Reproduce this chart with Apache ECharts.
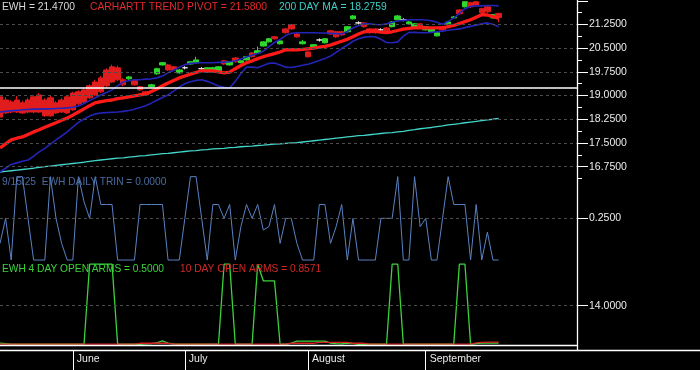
<!DOCTYPE html>
<html><head><meta charset="utf-8">
<script src="https://cdn.jsdelivr.net/npm/echarts@6/dist/echarts.min.js"></script>
<style>html,body{margin:0;padding:0;background:#000}#c{width:700px;height:370px}</style>
</head><body><div id="c"></div>
<script>
const dates = ['5/13','5/14','5/15','5/16','5/19','5/20','5/21','5/22','5/23','5/27','5/28','5/29','5/30',
'6/2','6/3','6/4','6/5','6/6','6/9','6/10','6/11','6/12','6/13','6/16','6/17','6/18','6/20','6/23','6/24','6/25','6/26','6/27','6/30',
'7/1','7/2','7/3','7/7','7/8','7/9','7/10','7/11','7/14','7/15','7/16','7/17','7/18','7/21','7/22','7/23','7/24','7/25','7/28','7/29','7/30','7/31',
'8/1','8/4','8/5','8/6','8/7','8/8','8/11','8/12','8/13','8/14','8/15','8/18','8/19','8/20','8/21','8/22','8/25','8/26','8/27','8/28','8/29',
'9/2','9/3','9/4','9/5','9/8','9/9','9/10','9/11','9/12','9/15','9/16','9/17','9/18','9/19'];
const padCats = ['p1','p2','p3','p4','p5','p6','p7','p8','p9','p10','p11','p12','p13','p14'];
const monthStarts = ['6/2','7/1','8/1','9/2'];
const monthNames = ['June','July','August','September'];

const open = [18.96,18.86,18.80,18.86,18.77,18.86,18.96,19.02,18.86,18.93,
18.77,18.86,18.96,19.08,19.12,19.18,19.31,19.43,19.56,19.81,
19.91,19.88,19.50,19.53,19.47,19.28,19.12,19.28,19.69,19.97,
19.97,19.91,19.72,19.88,20.00,20.04,19.85,19.75,19.75,19.78,
20.10,19.97,20.19,20.04,20.13,20.35,20.35,20.57,20.70,20.86,
20.64,21.11,21.24,20.95,20.64,20.38,20.54,20.76,20.67,21.05,
21.02,21.02,21.02,21.43,21.30,21.30,21.11,21.11,21.08,21.14,
21.18,21.40,21.40,21.27,21.18,21.27,21.08,21.02,20.89,21.18,
21.27,21.46,21.71,21.81,21.94,21.97,21.75,21.81,21.46,21.60];
const close = [18.32,18.45,18.48,18.48,18.45,18.48,18.48,18.48,18.36,18.36,
18.45,18.48,18.45,18.55,18.74,18.80,18.93,19.02,19.12,19.31,
19.43,19.50,19.34,19.59,19.34,19.18,19.02,19.34,19.85,20.04,
19.81,19.81,19.81,19.88,20.07,20.13,19.85,19.88,19.88,19.91,
20.00,20.07,20.07,20.10,20.23,20.23,20.42,20.70,20.80,20.80,
20.73,20.99,21.11,20.86,20.70,20.23,20.61,20.76,20.80,20.95,
20.86,20.92,21.18,21.52,21.30,21.18,20.99,20.99,21.08,21.05,
21.33,21.52,21.40,21.33,21.27,21.18,21.18,21.11,20.99,21.08,
21.33,21.49,21.59,21.97,21.81,21.87,21.62,21.65,21.56,21.47];
const low = [18.28,18.42,18.44,18.45,18.42,18.44,18.44,18.45,18.33,18.33,
18.42,18.45,18.42,18.52,18.70,18.76,18.89,18.98,19.08,19.27,
19.40,19.46,19.30,19.50,19.31,19.15,18.99,19.26,19.66,19.95,
19.78,19.79,19.70,19.83,19.98,20.02,19.80,19.73,19.72,19.76,
19.97,19.95,20.04,20.02,20.11,20.20,20.33,20.55,20.68,20.77,
20.62,20.96,21.08,20.83,20.62,20.20,20.52,20.71,20.65,20.92,
20.83,20.89,21.00,21.41,21.25,21.15,20.96,20.96,21.03,21.02,
21.16,21.38,21.35,21.25,21.16,21.15,21.06,21.00,20.87,21.05,
21.25,21.44,21.56,21.79,21.78,21.84,21.59,21.62,21.44,21.32];
const high = [19.02,18.95,18.86,18.99,18.84,18.93,19.01,19.08,18.92,18.99,
18.83,18.93,19.00,19.12,19.17,19.25,19.36,19.50,19.62,19.86,
19.98,19.95,19.55,19.62,19.50,19.31,19.15,19.37,19.88,20.06,
20.00,19.94,19.84,19.93,20.09,20.23,19.90,19.90,19.91,19.93,
20.13,20.09,20.22,20.12,20.25,20.38,20.55,20.72,20.82,20.89,
20.76,21.14,21.27,20.98,20.76,20.41,20.63,20.81,20.82,21.08,
21.05,21.05,21.20,21.55,21.35,21.33,21.14,21.14,21.13,21.17,
21.36,21.55,21.45,21.36,21.30,21.30,21.20,21.14,21.01,21.21,
21.36,21.52,21.74,21.99,21.97,21.99,21.78,21.84,21.58,21.62];

const pivot = [17.34,17.47,17.60,17.65,17.69,17.77,17.85,17.92,18.00,18.07,
18.14,18.22,18.29,18.38,18.48,18.58,18.68,18.77,18.81,18.84,
18.86,18.90,18.93,18.96,18.99,19.02,19.05,19.13,19.21,19.31,
19.40,19.48,19.56,19.62,19.68,19.73,19.78,19.78,19.78,19.75,
19.72,19.74,19.85,19.95,20.04,20.10,20.17,20.23,20.28,20.33,
20.38,20.45,20.45,20.45,20.46,20.48,20.50,20.53,20.56,20.60,
20.66,20.72,20.78,20.86,20.95,21.02,21.05,21.04,21.01,20.99,
21.02,21.06,21.10,21.13,21.14,21.14,21.14,21.14,21.14,21.14,
21.18,21.22,21.28,21.34,21.40,21.48,21.56,21.55,21.50,21.45];
const maFast = [18.48,18.50,18.52,18.53,18.55,18.56,18.57,18.57,18.58,18.58,
18.59,18.60,18.61,18.63,18.67,18.75,18.84,18.93,19.02,19.10,
19.18,19.31,19.43,19.47,19.50,19.50,19.52,19.53,19.56,19.62,
19.72,19.80,19.90,19.98,20.02,20.03,20.04,20.04,20.04,20.05,
20.06,20.07,20.10,20.16,20.22,20.28,20.33,20.40,20.55,20.68,
20.78,20.90,20.97,20.99,20.99,20.99,20.99,20.98,20.98,20.97,
20.96,20.95,21.03,21.14,21.22,21.27,21.27,21.25,21.24,21.27,
21.32,21.36,21.38,21.39,21.40,21.40,21.39,21.37,21.32,21.26,
21.35,21.45,21.60,21.75,21.82,21.84,21.84,21.85,21.85,21.84];
const maSlow = [16.58,16.70,16.82,16.87,16.92,16.96,17.08,17.22,17.33,17.46,
17.60,17.72,17.85,18.00,18.15,18.26,18.35,18.42,18.45,18.46,
18.47,18.48,18.50,18.53,18.57,18.62,18.68,18.76,18.85,18.94,
19.02,19.14,19.27,19.38,19.44,19.48,19.50,19.45,19.38,19.30,
19.26,19.24,19.45,19.70,19.90,19.90,19.88,19.95,20.02,20.03,
19.97,19.90,19.89,19.92,19.96,19.99,20.05,20.11,20.17,20.25,
20.37,20.49,20.60,20.72,20.80,20.85,20.87,20.86,20.78,20.68,
20.67,20.70,20.88,21.00,21.00,20.99,20.99,21.00,21.02,21.04,
21.07,21.09,21.11,21.15,21.19,21.23,21.27,21.30,21.26,21.18];
const ma200 = [16.58,16.60,16.62,16.64,16.66,16.68,16.70,16.73,16.75,16.77,
16.79,16.81,16.83,16.85,16.87,16.89,16.92,16.94,16.96,16.98,
17.00,17.02,17.03,17.05,17.07,17.09,17.10,17.12,17.14,17.16,
17.17,17.19,17.21,17.23,17.25,17.26,17.28,17.29,17.31,17.32,
17.33,17.35,17.36,17.38,17.39,17.40,17.42,17.43,17.45,17.46,
17.47,17.49,17.50,17.51,17.53,17.55,17.57,17.59,17.61,17.63,
17.65,17.67,17.69,17.71,17.73,17.74,17.76,17.78,17.80,17.82,
17.83,17.85,17.87,17.90,17.92,17.95,17.97,17.99,18.02,18.04,
18.07,18.09,18.11,18.14,18.16,18.18,18.21,18.23,18.25,18.2759];
const refLevel = 19.24;

const trin = [0.10,0.25,0,0.5,0.5,0.25,0,0,0,0.5,
0.25,0.10,0,0,0.5,0.35,0.25,0.5,0.333,0.333,
0.333,0,0,0,0,0.333,0.333,0.333,0.333,0.333,
0,0,0,0.25,0.5,0.5,0.25,0,0.333,0.333,
0.25,0.333,0,0.2,0.333,0.25,0.333,0.18,0.2,0.333,
0.1,0.25,0.25,0.1,0,0,0,0.333,0.333,0.1,
0.2,0.333,0,0.25,0,0,0,0,0.25,0.25,
0.25,0.5,0,0,0.5,0.2,0.25,0,0,0.25,
0.5,0.333,0.333,0.333,0,0.333,0,0.167,0,0];

const arms4 = [0.5,0.3,0.1,0.1,0.1,0.1,0.1,0.1,0.1,0.1,
0.1,0.1,0.1,0.1,0.1,0.1,29,29,29,29,
29,0.1,0.1,0.1,0.1,0.1,0.2,0.3,0.6,1.3,
0.5,0.2,0.1,0.1,0.1,0.1,0.1,0.1,0.1,0.1,
29,29,0.1,0.1,0.1,0.1,29,23,23,23,
0.1,0.1,0.5,1.2,1.2,1.2,1.2,1.2,1.2,0.5,
0.3,0.2,0.5,0.4,0.1,0.1,0.1,0.1,0.1,0.1,
29,29,0.1,0.1,0.1,0.1,0.1,0.1,0.1,0.1,
0.1,0.1,29,29,0.1,0.3,0.5,0.5,0.5,0.5];
const arms10 = [0.15,0.15,0.15,0.15,0.15,0.15,0.15,0.15,0.15,0.15,
0.15,0.15,0.15,0.15,0.15,0.15,0.15,0.15,0.15,0.15,
0.15,0.15,0.15,0.15,0.15,0.45,0.45,0.45,0.45,0.45,
0.45,0.15,0.15,0.15,0.15,0.15,0.15,0.15,0.15,0.15,
0.15,0.15,0.15,0.15,0.15,0.15,0.15,0.15,0.15,0.15,
0.15,0.15,0.45,0.45,0.45,0.45,0.45,0.8,0.8,0.8,
0.8,0.8,0.8,0.45,0.45,0.45,0.15,0.15,0.15,0.15,
0.15,0.15,0.15,0.15,0.15,0.15,0.15,0.15,0.15,0.15,
0.15,0.15,0.15,0.15,0.15,0.6,0.8,0.86,0.86,0.86];

const priceLabelTicks = [16.75,17.5,18.25,19.0,19.75,20.5,21.25];
const priceMajorTicks = [16.75,17.5,18.25,19.0,19.75,20.5,21.25,22.0];
const priceMinorTicks = [16.375,17.125,17.875,18.625,19.375,20.125,20.875,21.625];
const trinTicks = [0.25];
const armsTicks = [14];

const titleEWH = 'EWH = 21.4700';
const titlePivot = 'CARHARTT TREND PIVOT = 21.5800';
const titleMA = '200 DAY MA = 18.2759';
const titleTrin = '9/15/25  EWH DAILY TRIN = 0.0000';
const titleArms4 = 'EWH 4 DAY OPEN ARMS = 0.5000';
const titleArms10 = '10 DAY OPEN ARMS = 0.8571';

const cats = dates.concat(padCats);
const FONT = '"Liberation Sans", Arial, sans-serif';
const gridDash = (vals) => ({
  silent: true, symbol: 'none', label: {show: false},
  lineStyle: {color: '#4c4c4c', type: [3, 3], width: 1},
  emphasis: {disabled: true},
  data: vals.map(v => ({yAxis: v}))
});
const fmt4 = v => Number(v).toFixed(4);
const yLab = {color: '#ececec', fontSize: 10.5, fontFamily: FONT, margin: 12, formatter: fmt4};
const catX = (gi) => ({type: 'category', gridIndex: gi, data: cats, boundaryGap: false, show: false});

const chart = echarts.init(document.getElementById('c'), null, {renderer: 'canvas'});
chart.setOption({
  backgroundColor: '#000',
  animation: false,
  grid: [
    {left: 0, width: 577, top: 0.8, height: 177.7},
    {left: 0, width: 577, top: 175.0, height: 86.7},
    {left: 0, width: 577, top: 261.4, height: 84.5}
  ],
  xAxis: [
    catX(0), catX(1), catX(2),
    {type: 'category', gridIndex: 2, data: cats, boundaryGap: false, position: 'bottom', offset: 4.6,
     axisLine: {show: false},
     axisTick: {show: true, length: 20, interval: (i, v) => monthStarts.includes(v), lineStyle: {color: '#fff', width: 1}},
     axisLabel: {show: true, interval: (i, v) => monthStarts.includes(v), align: 'left', margin: 3,
       padding: [0, 0, 0, 4], color: '#ececec', fontSize: 10.5, fontFamily: FONT,
       formatter: v => monthNames[monthStarts.indexOf(v)] || ''},
     splitLine: {show: false}}
  ],
  yAxis: [
    {type: 'value', gridIndex: 0, position: 'right', min: 16.375, max: 22, scale: true,
     axisLine: {show: false}, splitLine: {show: false},
     axisTick: {show: true, length: 11, customValues: priceMajorTicks, lineStyle: {color: '#fff'}},
     axisLabel: Object.assign({customValues: priceLabelTicks}, yLab)},
    {type: 'value', gridIndex: 0, position: 'right', min: 16.375, max: 22, scale: true,
     axisLine: {show: false}, splitLine: {show: false},
     axisTick: {show: true, length: 5, customValues: priceMinorTicks, lineStyle: {color: '#fff'}},
     axisLabel: {show: false}},
    {type: 'value', gridIndex: 1, position: 'right', min: -0.01, max: 0.51,
     axisLine: {show: false}, splitLine: {show: false},
     axisTick: {show: true, length: 11, customValues: trinTicks, lineStyle: {color: '#fff'}},
     axisLabel: Object.assign({customValues: trinTicks}, yLab)},
    {type: 'value', gridIndex: 2, position: 'right', min: -0.5, max: 30,
     axisLine: {show: false}, splitLine: {show: false},
     axisTick: {show: true, length: 11, customValues: armsTicks, lineStyle: {color: '#fff'}},
     axisLabel: Object.assign({customValues: armsTicks}, yLab)}
  ],
  series: [
    {name: '200 DAY MA', type: 'line', xAxisIndex: 0, yAxisIndex: 0, data: ma200, symbol: 'none', z: 1,
     lineStyle: {color: '#43d6ca', width: 1.3}, markLine: gridDash(priceLabelTicks)},
    {name: 'EWH', type: 'candlestick', xAxisIndex: 0, yAxisIndex: 0, z: 2, barWidth: 6,
     data: open.map((o, i) => [o, close[i], low[i], high[i]]),
     itemStyle: {color: '#2ed82e', color0: '#e01c1c', borderColor: '#2ed82e', borderColor0: '#e01c1c',
       borderColorDoji: '#e8e8e8', borderWidth: 1}},
    {name: 'slow', type: 'line', xAxisIndex: 0, yAxisIndex: 0, data: maSlow, symbol: 'none', z: 3,
     lineStyle: {color: '#2424b8', width: 1.6}},
    {name: 'fast', type: 'line', xAxisIndex: 0, yAxisIndex: 0, data: maFast, symbol: 'none', z: 3,
     lineStyle: {color: '#2424b8', width: 1.6}},
    {name: 'pivot', type: 'line', xAxisIndex: 0, yAxisIndex: 0, data: pivot, symbol: 'none', z: 4,
     lineStyle: {color: '#ff1a1a', width: 3.3},
     markLine: {silent: true, symbol: 'none', label: {show: false}, emphasis: {disabled: true},
       lineStyle: {color: '#ffffff', type: 'solid', width: 1.5}, data: [{yAxis: refLevel}]}},
    {name: 'trin', type: 'line', xAxisIndex: 1, yAxisIndex: 2, data: trin, symbol: 'none', z: 2,
     lineStyle: {color: '#5a82c2', width: 1}, markLine: gridDash(trinTicks)},
    {name: 'arms4', type: 'line', xAxisIndex: 2, yAxisIndex: 3, data: arms4, symbol: 'none', z: 2,
     lineStyle: {color: '#3ad43a', width: 1.3}, markLine: gridDash(armsTicks)},
    {name: 'arms10', type: 'line', xAxisIndex: 2, yAxisIndex: 3, data: arms10, symbol: 'none', z: 3,
     lineStyle: {color: '#d82222', width: 1.3}}
  ],
  graphic: [
    {type: 'line', shape: {x1: 577.5, y1: 0, x2: 577.5, y2: 350.5}, style: {stroke: '#fff', lineWidth: 1.3}, z: 100, silent: true},
    {type: 'line', shape: {x1: 0, y1: 345.5, x2: 577.5, y2: 345.5}, style: {stroke: '#fff', lineWidth: 1.3}, z: 100, silent: true},
    {type: 'line', shape: {x1: 0, y1: 350.5, x2: 700, y2: 350.5}, style: {stroke: '#fff', lineWidth: 1.3}, z: 100, silent: true},
    {type: 'text', x: 2, y: 7, z: 100, silent: true, style: {text: titleEWH, fill: '#d8d8d8', font: '10.3px ' + FONT, textVerticalAlign: 'middle', verticalAlign: 'middle'}},
    {type: 'text', x: 90, y: 7, z: 100, silent: true, style: {text: titlePivot, fill: '#e42a2a', font: '10.3px ' + FONT, textVerticalAlign: 'middle', verticalAlign: 'middle'}},
    {type: 'text', x: 279, y: 7, z: 100, silent: true, style: {text: titleMA, fill: '#3ccfc8', font: '10.3px ' + FONT, textVerticalAlign: 'middle', verticalAlign: 'middle'}},
    {type: 'text', x: 2, y: 182, z: 100, silent: true, style: {text: titleTrin, fill: '#4a6b9e', font: '10.2px ' + FONT, textVerticalAlign: 'middle', verticalAlign: 'middle'}},
    {type: 'text', x: 2, y: 269, z: 100, silent: true, style: {text: titleArms4, fill: '#3ad43a', font: '10.2px ' + FONT, textVerticalAlign: 'middle', verticalAlign: 'middle'}},
    {type: 'text', x: 180, y: 269, z: 100, silent: true, style: {text: titleArms10, fill: '#d42828', font: '10.2px ' + FONT, textVerticalAlign: 'middle', verticalAlign: 'middle'}}
  ]
});
</script>
</body></html>
